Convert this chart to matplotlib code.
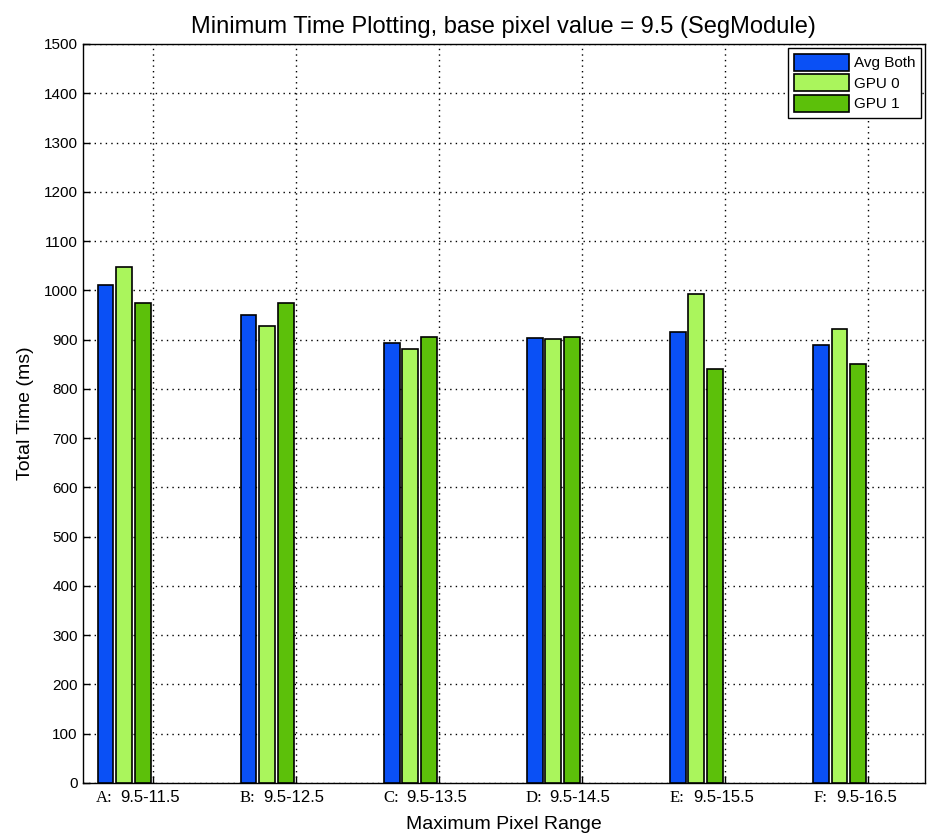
import matplotlib
matplotlib.use("Agg")
import matplotlib.pyplot as plt
import numpy as np

# Data
letters = ["A:", "B:", "C:", "D:", "E:", "F:"]
ranges = ["9.5-11.5", "9.5-12.5", "9.5-13.5", "9.5-14.5", "9.5-15.5", "9.5-16.5"]
avg_both = [1010, 950, 893, 903, 916, 888]
gpu0 = [1047, 927, 880, 902, 992, 921]
gpu1 = [975, 975, 906, 906, 841, 851]
series_names = ["Avg Both", "GPU 0", "GPU 1"]
yticks = list(range(0, 1501, 100))

colors = ["#0a50f5", "#aaf55c", "#5cc00a"]

fig = plt.figure(figsize=(9.32, 8.36), dpi=100)
ax = fig.add_axes([0.0887, 0.0634, 0.904, 0.884])

pos = np.arange(1, len(letters) + 1)
width = 0.11
offsets = [-0.33, -0.20, -0.07]
for vals, off, c, name in zip([avg_both, gpu0, gpu1], offsets, colors, series_names):
    ax.bar(pos + off, vals, width=width, color=c, edgecolor="black",
           linewidth=1.2, label=name, zorder=3)

ax.set_xlim(0.51, 6.40)
ax.set_ylim(0, 1500)
ax.set_yticks(yticks)
ax.set_xticks(pos)
ax.set_xticklabels([""] * len(pos))
ax.grid(True, linestyle=(0, (1, 3)), color="black", linewidth=1.0, zorder=1)
ax.tick_params(direction="in", length=5, width=1, labelsize=11, top=False, right=False)
for lab in ax.get_yticklabels():
    lab.set_fontfamily("Liberation Sans")
for s in ax.spines.values():
    s.set_linewidth(1.0)

# category labels: letter in serif, range in sans
for p, l, r in zip(pos, letters, ranges):
    ax.text(p - 0.28, -0.01, l, transform=ax.get_xaxis_transform(), ha="right", va="top",
            fontsize=12, family="Liberation Serif")
    ax.text(p - 0.225, -0.01, r, transform=ax.get_xaxis_transform(), ha="left", va="top",
            fontsize=12, family="Liberation Sans")

ax.set_xlabel("Maximum Pixel Range", fontsize=14, family="Liberation Sans", labelpad=20)
ax.set_ylabel("Total Time (ms)", fontsize=14, family="Liberation Sans", labelpad=7)
ax.set_title("Minimum Time Plotting, base pixel value = 9.5 (SegModule)",
             fontsize=17, family="Liberation Sans", pad=8)

leg = ax.legend(loc="upper right", fancybox=False, edgecolor="black", framealpha=1,
                prop={"family": "Liberation Sans", "size": 11}, handlelength=3.6,
                handleheight=1.3, borderaxespad=0.25, labelspacing=0.25, handletextpad=0.3,
                borderpad=0.4)
leg.get_frame().set_linewidth(1.0)

fig.savefig("out.png", dpi=100)
